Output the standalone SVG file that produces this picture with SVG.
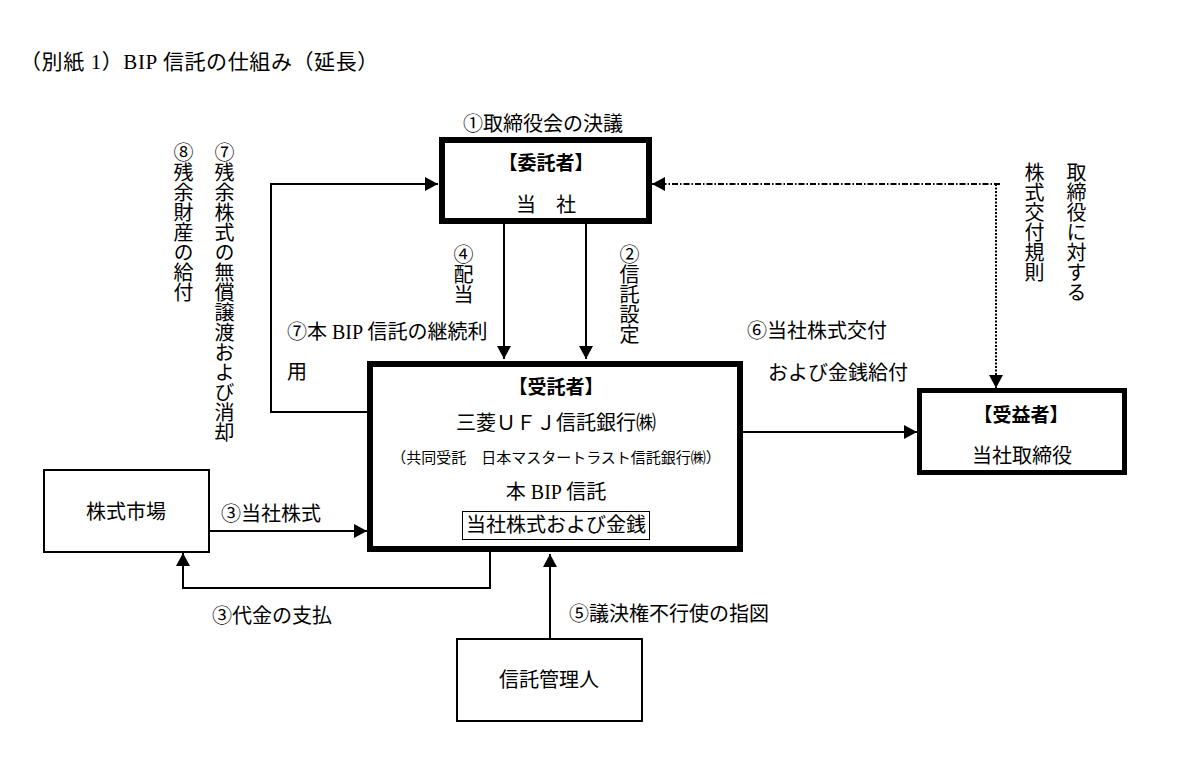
<svg xmlns="http://www.w3.org/2000/svg" width="1203" height="767" viewBox="0 0 1203 767">
<style>
text{font-family:"Liberation Serif","Noto Sans CJK JP",serif;font-size:20px;fill:#000;dominant-baseline:central}
.c{text-anchor:middle}
.b{font-weight:bold;font-size:19px}
.s{font-size:15px}
.t{font-size:21px;letter-spacing:0.6px}
.v{writing-mode:vertical-rl}
.thick{fill:#fff;stroke:#000;stroke-width:6}
.thin{fill:#fff;stroke:#000;stroke-width:2}
.ln{fill:none;stroke:#000;stroke-width:2}
.dd{fill:none;stroke:#000;stroke-width:2;stroke-dasharray:6 2 1.5 2}
.dt{fill:none;stroke:#000;stroke-width:2;stroke-dasharray:2 1.5}
</style>
<defs>
<marker id="ah" markerUnits="userSpaceOnUse" viewBox="0 0 13 14" refX="13" refY="7" markerWidth="13" markerHeight="14" orient="auto">
<path d="M0,0 L13,7 L0,14 z" fill="#000"/>
</marker>
</defs>
<rect width="1203" height="767" fill="#fff"/>
<text class="t" x="20" y="62">（別紙 1）BIP 信託の仕組み（延長）</text>

<g id="connectors">
<line class="ln" x1="504" y1="223" x2="504" y2="359" marker-end="url(#ah)"/>
<line class="ln" x1="586" y1="223" x2="586" y2="359" marker-end="url(#ah)"/>
<polyline class="ln" points="367,412 271,412 271,184 438,184" marker-end="url(#ah)"/>
<line class="dd" x1="1000" y1="184" x2="652" y2="184" marker-end="url(#ah)"/>
<line class="dt" x1="996" y1="184" x2="996" y2="388" marker-end="url(#ah)"/>
<line class="ln" x1="743" y1="432" x2="917" y2="432" marker-end="url(#ah)"/>
<line class="ln" x1="209" y1="531" x2="367" y2="531" marker-end="url(#ah)"/>
<polyline class="ln" points="490,552 490,588 183,588 183,553" marker-end="url(#ah)"/>
<line class="ln" x1="550" y1="639" x2="550" y2="554" marker-end="url(#ah)"/>
</g>

<g id="labels">
<text x="463" y="124">①取締役会の決議</text>
<text class="v" x="462" y="244">④配当</text>
<text class="v" x="628" y="244">②信託設定</text>
<text x="287" y="332">⑦本 BIP 信託の継続利</text>
<text x="287" y="372">用</text>
<text class="v" x="182" y="142">⑧残余財産の給付</text>
<text class="v" x="223" y="142">⑦残余株式の無償譲渡および消却</text>
<text x="747" y="331">⑥当社株式交付</text>
<text x="768" y="373">および金銭給付</text>
<text class="v" x="1033" y="162">株式交付規則</text>
<text class="v" x="1075" y="162">取締役に対する</text>
<text x="221" y="514">③当社株式</text>
<text x="212" y="616">③代金の支払</text>
<text x="569" y="614">⑤議決権不行使の指図</text>
</g>

<g id="trustor">
<rect class="thick" x="442" y="140" width="207" height="81"/>
<text class="c b" x="546" y="163">【委託者】</text>
<text class="c" x="546" y="205">当　社</text>
</g>

<g id="trustee">
<rect class="thick" x="370" y="364" width="370" height="185"/>
<text class="c b" x="556" y="387">【受託者】</text>
<text class="c" x="556" y="423">三菱ＵＦＪ信託銀行㈱</text>
<text class="c s" x="556" y="458">（共同受託　日本マスタートラスト信託銀行㈱）</text>
<text class="c" x="556" y="492">本 BIP 信託</text>
<rect x="462.5" y="511.5" width="187" height="28" fill="none" stroke="#000" stroke-width="1"/>
<text class="c" x="556" y="525">当社株式および金銭</text>
</g>

<g id="beneficiary">
<rect x="919.5" y="390.5" width="205" height="82" fill="#fff" stroke="#000" stroke-width="5"/>
<text class="c b" x="1021" y="415">【受益者】</text>
<text class="c" x="1022" y="456">当社取締役</text>
</g>

<g id="market">
<rect class="thin" x="44" y="470" width="165" height="82"/>
<text class="c" x="126" y="512">株式市場</text>
</g>

<g id="administrator">
<rect class="thin" x="457" y="639" width="185" height="82"/>
<text class="c" x="549" y="680">信託管理人</text>
</g>
</svg>
